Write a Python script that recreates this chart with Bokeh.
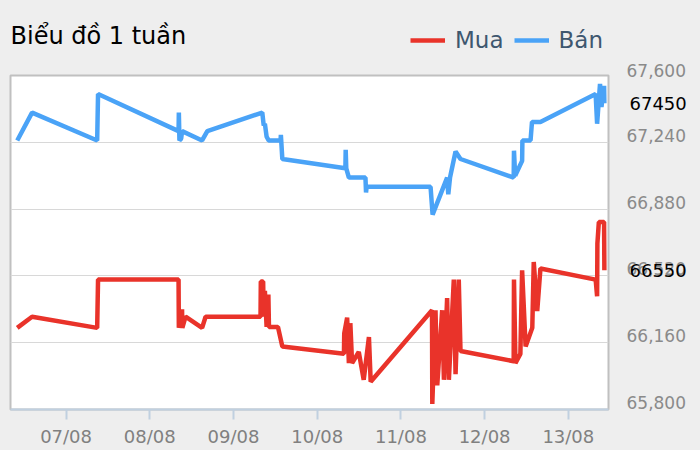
from datetime import datetime
from bokeh.plotting import figure
from bokeh.layouts import column
from bokeh.models import (FixedTicker, DatetimeTickFormatter, NumeralTickFormatter, LinearAxis,
                          Range1d, Legend, LegendItem, Label, Title, GlobalInlineStyleSheet)
from bokeh.embed import file_html
from bokeh.resources import INLINE

YEAR = 2014

title_text = "Biểu đồ 1 tuần"
series_names = ["Mua", "Bán"]

mua_times = [
    "06/08 10:00", "06/08 14:15", "07/08 08:55", "07/08 09:10", "08/08 08:15",
    "08/08 08:20", "08/08 09:15", "08/08 09:20", "08/08 10:15", "08/08 15:00",
    "08/08 16:00", "09/08 07:45", "09/08 07:50", "09/08 08:30", "09/08 08:40",
    "09/08 09:00", "09/08 09:30", "09/08 10:00", "09/08 10:10", "09/08 12:45",
    "09/08 14:00", "10/08 07:40", "10/08 07:45", "10/08 08:35", "10/08 09:05",
    "10/08 09:30", "10/08 10:00", "10/08 11:55", "10/08 13:20", "10/08 14:50",
    "10/08 15:20", "11/08 08:55", "11/08 09:00", "11/08 09:55", "11/08 10:25",
    "11/08 11:50", "11/08 12:20", "11/08 13:15", "11/08 13:45", "11/08 15:10",
    "11/08 15:40", "11/08 16:35", "11/08 17:05", "12/08 08:20", "12/08 08:25",
    "12/08 08:50", "12/08 10:15", "12/08 10:45", "12/08 11:45", "12/08 13:40",
    "12/08 14:05", "12/08 15:05", "12/08 16:00", "13/08 07:50", "13/08 08:15",
    "13/08 08:20", "13/08 08:45", "13/08 10:15", "13/08 10:20",
]
mua_values = [
    66240, 66300, 66240, 66500, 66500,
    66240, 66340, 66240, 66300, 66240,
    66300, 66300, 66490, 66490, 66300,
    66440, 66245, 66420, 66245, 66245,
    66140, 66100, 66210, 66295, 66050,
    66265, 66050, 66110, 65960, 66190,
    65950, 66335, 65830, 66335, 65930,
    66335, 65960, 66400, 65960, 66500,
    65990, 66500, 66115, 66060, 66500,
    66050, 66100, 66550, 66140, 66240,
    66595, 66330, 66560, 66500, 66410,
    66695, 66810, 66810, 66550,
]

ban_times = [
    "06/08 10:00", "06/08 14:15", "07/08 08:55", "07/08 09:10", "08/08 08:15",
    "08/08 08:20", "08/08 08:30", "08/08 09:00", "08/08 09:15", "08/08 15:00",
    "08/08 16:30", "09/08 08:15", "09/08 08:40", "09/08 09:00", "09/08 09:30",
    "09/08 10:05", "09/08 13:30", "09/08 13:35", "09/08 14:00", "10/08 08:05",
    "10/08 08:10", "10/08 08:20", "10/08 09:05", "10/08 13:50", "10/08 14:00",
    "10/08 14:10", "11/08 08:30", "11/08 09:05", "11/08 13:15", "11/08 13:35",
    "11/08 14:05", "11/08 15:40", "11/08 17:05", "12/08 08:20", "12/08 08:25",
    "12/08 08:45", "12/08 10:45", "12/08 10:50", "12/08 13:10", "12/08 13:35",
    "12/08 16:00", "13/08 07:50", "13/08 08:15", "13/08 09:05", "13/08 09:30",
    "13/08 10:15", "13/08 10:20",
]
ban_values = [
    67250, 67400, 67250, 67500, 67300,
    67400, 67250, 67260, 67300, 67250,
    67300, 67400, 67330, 67340, 67270,
    67250, 67250, 67280, 67150, 67100,
    67200, 67100, 67050, 67050, 66970,
    67000, 67000, 66850, 67050, 66960,
    67050, 67190, 67150, 67050, 67195,
    67060, 67140, 67250, 67250, 67350,
    67350, 67500, 67340, 67555, 67430,
    67545, 67450,
]

x_tick_days = ["07/08", "08/08", "09/08", "10/08", "11/08", "12/08", "13/08"]
y_ticks = [65800, 66160, 66520, 66880, 67240, 67600]
x_window = ["06/08 08:04", "13/08 11:31"]

RED = "#e9332a"
BLUE = "#4aa3f7"
BG = "#eeeeee"
FONT = "DejaVu Sans"
TICK_GREY = "#8a8a8a"
LABEL_SHIFT = 38          # lifts the y tick labels ~7px above their grid lines
FRAME_LEFT, FRAME_RIGHT = 10, 608
HEAD_H = 56
TOP_BORDER = 19


def to_dt(s):
    return datetime.strptime(f"{s} {YEAR}", "%d/%m %H:%M %Y")


mua_x = [to_dt(s) for s in mua_times]
ban_x = [to_dt(s) for s in ban_times]
x_start, x_end = to_dt(x_window[0]), to_dt(x_window[1])
tick_ms = [(to_dt(d + " 00:00") - datetime(1970, 1, 1)).total_seconds() * 1000 for d in x_tick_days]

# ---------------- header (title + legend) ----------------
head = figure(width=700, height=HEAD_H,
              x_range=Range1d(FRAME_LEFT, FRAME_RIGHT), y_range=Range1d(HEAD_H, 0),
              x_axis_location=None, y_axis_location=None,
              output_backend="svg", toolbar_location=None,
              min_border_left=FRAME_LEFT, min_border_right=700 - FRAME_RIGHT,
              min_border_top=0, min_border_bottom=0)
head.grid.visible = False
head.outline_line_color = None
head.background_fill_color = BG
head.border_fill_color = BG

head.add_layout(Label(x=FRAME_LEFT, y=35, text=title_text, text_baseline="middle",
                      text_font=FONT, text_font_size="24px", text_color="#000000"))

h_mua = head.line(x=[FRAME_LEFT], y=[0], line_color=RED, line_width=4.5)
h_ban = head.line(x=[FRAME_LEFT], y=[0], line_color=BLUE, line_width=4.5)
legend = Legend(items=[LegendItem(label=series_names[0], renderers=[h_mua]),
                       LegendItem(label=series_names[1], renderers=[h_ban])],
                location=(400, HEAD_H - 53), orientation="horizontal",
                background_fill_alpha=0, border_line_color=None,
                padding=0, margin=0, spacing=10, label_standoff=10,
                glyph_width=35, glyph_height=20, label_height=20,
                label_text_font=FONT, label_text_font_size="23px",
                label_text_color="#3e576f")
head.add_layout(legend, "center")

# ---------------- main chart ----------------
p = figure(width=700, height=450 - HEAD_H, x_axis_type="datetime", y_axis_location="right",
           x_range=(x_start, x_end), y_range=(y_ticks[0], y_ticks[-1]),
           output_backend="svg", toolbar_location=None,
           min_border_left=FRAME_LEFT, min_border_right=700 - FRAME_RIGHT,
           min_border_top=TOP_BORDER, min_border_bottom=41)
p.background_fill_color = "white"
p.border_fill_color = BG
p.outline_line_color = "#c0c0c0"
p.outline_line_width = 2

p.line(mua_x, mua_values, line_color=RED, line_width=4.5)
p.line(ban_x, ban_values, line_color=BLUE, line_width=4.5)

# x axis
xa = p.xaxis[0]
xa.ticker = FixedTicker(ticks=tick_ms)
xa.formatter = DatetimeTickFormatter(days="%d/%m", months="%d/%m", hours="%d/%m",
                                     minutes="%d/%m", years="%d/%m")
xa.axis_line_color = "#c0d0e0"
xa.axis_line_width = 2
xa.major_tick_line_color = "#c0d0e0"
xa.major_tick_line_width = 2
xa.major_tick_out = 10
xa.major_tick_in = 0
xa.minor_tick_line_color = None
xa.major_label_text_color = "#808080"
xa.major_label_text_font = FONT
xa.major_label_text_font_size = "18px"
xa.major_label_standoff = 6

# y grid on the real values
p.xgrid.visible = False
p.ygrid.ticker = FixedTicker(ticks=y_ticks)
p.ygrid.grid_line_color = "#d8d8d8"
p.ygrid.grid_line_width = 1

# y tick labels, drawn slightly above their grid lines
p.extra_y_ranges = {"ticklabels": Range1d(y_ticks[0] - LABEL_SHIFT, y_ticks[-1] - LABEL_SHIFT)}
ya = p.yaxis[0]
ya.y_range_name = "ticklabels"
ya.ticker = FixedTicker(ticks=y_ticks[:-1])
ya.formatter = NumeralTickFormatter(format="0,0")
ya.axis_line_color = None
ya.major_tick_line_color = None
ya.minor_tick_line_color = None
ya.major_tick_out = 0
ya.major_label_standoff = 18
ya.major_label_text_color = TICK_GREY
ya.major_label_text_font = FONT
ya.major_label_text_font_size = "17px"

# the top tick label sits above the frame
p.add_layout(Title(text=f"{y_ticks[-1]:,}", align="left", offset=FRAME_RIGHT - FRAME_LEFT + 18,
                   standoff=-3, text_font=FONT, text_font_size="17px",
                   text_font_style="normal", text_color=TICK_GREY), "above")

# last values, in black, overlapping the tick label column
last_axis = LinearAxis(ticker=FixedTicker(ticks=[mua_values[-1], ban_values[-1]]),
                       formatter=NumeralTickFormatter(format="0"),
                       axis_line_color=None, major_tick_line_color=None,
                       minor_tick_line_color=None, major_tick_out=0, major_tick_in=0,
                       major_label_standoff=-59, major_label_text_color="#000000",
                       major_label_text_font=FONT, major_label_text_font_size="18px")
p.add_layout(last_axis, "right")

layout = column(head, p, spacing=0)
layout.stylesheets = [GlobalInlineStyleSheet(css="body { background: #eeeeee; }")]

open("out.html", "w").write(file_html(layout, INLINE))
